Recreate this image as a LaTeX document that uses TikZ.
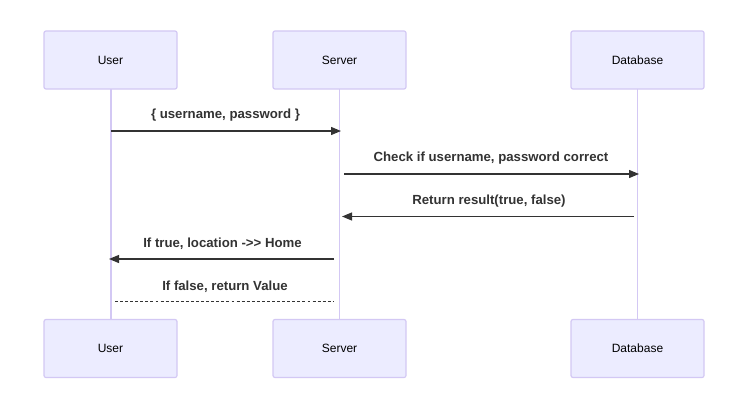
\documentclass[tikz,border=0pt]{standalone}
\usepackage{fontspec}
\setmainfont{Liberation Sans}
\usetikzlibrary{arrows.meta}
\definecolor{actfill}{HTML}{ECECFF}
\definecolor{actline}{HTML}{D3C8F4}
\definecolor{ink}{HTML}{333333}
\tikzset{
  actor/.style={draw=actline, fill=actfill, line width=0.9pt, rounded corners=1.5pt,
    minimum width=99.75pt, minimum height=43.5pt, inner sep=0pt,
    font=\fontsize{9}{11}\selectfont, text=black},
  life/.style={draw=actline, line width=1.2pt},
  msg/.style={draw=ink, line width=0.9pt, -{Triangle[length=7.5pt,width=6pt]}},
  dmsg/.style={draw=ink, line width=0.75pt, dash pattern=on 2.2pt off 1.6pt},
  lbl/.style={font=\bfseries\fontsize{9.9}{11}\selectfont, text=ink, inner sep=0pt}
}
\begin{document}
\begin{tikzpicture}[x=0.75pt,y=-0.75pt]
\useasboundingbox (0,0) rectangle (749,410);
\fill[white] (0,0) rectangle (749,410);
% lifelines first
\coordinate (uT) at (111,89); \coordinate (uB) at (111,320);
\coordinate (sT) at (339.5,89); \coordinate (sB) at (339.5,320);
\coordinate (dT) at (637.5,89); \coordinate (dB) at (637.5,320);
\draw[life] (uT) -- (uB);
\draw[life] (sT) -- (sB);
\draw[life] (dT) -- (dB);
% actors
\node[actor] (user) at (110.5,60) {User};
\node[actor] (server) at (339.5,60) {Server};
\node[actor] (db) at (637.5,60) {Database};
\node[actor] (user2) at (110.5,348.5) {User};
\node[actor] (server2) at (339.5,348.5) {Server};
\node[actor] (db2) at (637.5,348.5) {Database};
% messages
\coordinate (m1a) at (111,131); \coordinate (m1b) at (341,131);
\draw[msg] (m1a) -- (m1b);
\node[lbl] (l1) at (225.5,115.5) {\{ username, password \}};
\coordinate (m2a) at (344,174); \coordinate (m2b) at (639,174);
\draw[msg] (m2a) -- (m2b);
\node[lbl] (l2) at (491,158.5) {Check if username, password correct};
\coordinate (m3a) at (634,216.5); \coordinate (m3b) at (342,216.5);
\draw[msg] (m3a) -- (m3b);
\node[lbl] (l3) at (489,201.5) {Return result(true, false)};
\coordinate (m4a) at (334,259); \coordinate (m4b) at (109,259);
\draw[msg] (m4a) -- (m4b);
\node[lbl] (l4) at (222.5,243.5) {If true, location ->{}> Home};
\coordinate (m5a) at (115,301); \coordinate (m5b) at (334,301);
\draw[dmsg] (m5a) -- (m5b);
\node[lbl] (l5) at (225,286.5) {If false, return Value};
\end{tikzpicture}
\end{document}
